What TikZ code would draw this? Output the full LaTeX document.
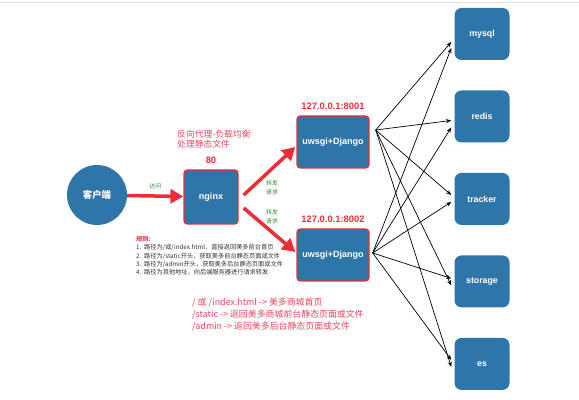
\documentclass[tikz,border=0pt]{standalone}
\usepackage{fontspec}
\setmainfont{Liberation Sans}
\newfontfamily\cjk{Noto Sans CJK SC}
\usepackage{tikz}
\usetikzlibrary{positioning,calc,arrows.meta}
\definecolor{boxblue}{RGB}{46,117,170}
\definecolor{proxyred}{RGB}{234,46,56}
\definecolor{notered}{RGB}{232,72,92}
\definecolor{notegreen}{RGB}{40,140,50}
\tikzset{
	proxybox/.style={draw=proxyred, line width=1.2pt, fill=boxblue, rounded corners=3pt, text=white, font=\bfseries\fontsize{7.7}{9}\selectfont},
	storebox/.style={fill=boxblue, rounded corners=6pt, text=white, font=\bfseries\fontsize{7.5}{9}\selectfont, minimum width=1.65cm, minimum height=1.56cm},
	bigarrow/.style={-{Triangle[length=11pt,width=12pt]}, line width=3pt, draw=proxyred},
	thinarrow/.style={-{Stealth[length=4.5pt,width=3.5pt]}, line width=0.6pt},
}

\begin{document}
\begin{tikzpicture}[x=0.03cm,y=-0.03cm]
		\useasboundingbox (0,0) rectangle (579,400);
		\draw[black!12, line width=0.8pt] (0,2) -- (579,2);
		
		\node[circle, fill=boxblue, minimum size=1.8cm, text=white, font=\cjk\bfseries\fontsize{8}{9}\selectfont] (client) at (97,195) {客户端};
		\node[proxybox, minimum width=1.62cm, minimum height=1.62cm] (nginx) at (211,197) {nginx};
		\node[proxybox, minimum width=2.16cm, minimum height=1.56cm] (uwsgi1) at (333,142) {uwsgi+Django};
		\node[proxybox, minimum width=2.16cm, minimum height=1.56cm] (uwsgi2) at (333,255) {uwsgi+Django};
		
		\node[above=1pt of nginx, text=proxyred, font=\bfseries\fontsize{8}{9}\selectfont] (port) {80};
		\node[above=1pt of uwsgi1, text=proxyred, font=\bfseries\fontsize{8}{9}\selectfont] (addr1) {127.0.0.1:8001};
		\node[above=1pt of uwsgi2, text=proxyred, font=\bfseries\fontsize{8}{9}\selectfont] (addr2) {127.0.0.1:8002};
		
		\node[storebox] (mysql) at (482,34) {mysql};
		\node[storebox, below=0.9cm of mysql] (redis) {redis};
		\node[storebox, below=0.9cm of redis] (tracker) {tracker};
		\node[storebox, below=0.9cm of tracker] (storage) {storage};
		\node[storebox, below=0.9cm of storage] (es) {es};
		
		\draw[bigarrow] (client) -- node[midway, above=1pt, text=notegreen, font=\cjk\fontsize{5}{6}\selectfont] (visit) {访问} (nginx);
		\draw[bigarrow] ($(nginx.east)+(5,-2)$) -- ($(uwsgi1.west)+(-1,5)$);
		\draw[bigarrow] ($(nginx.east)+(5,11)$) -- ($(uwsgi2.west)+(-1,-3)$);
		\node[align=center, text=notegreen, font=\cjk\fontsize{5}{7.5}\selectfont] (fwd1) at (272,188) {转发\\请求};
		\node[align=center, text=notegreen, font=\cjk\fontsize{5}{7.5}\selectfont] (fwd2) at (272,217) {转发\\请求};
		
		\foreach \t/\a/\b in {mysql/8/14, redis/4/11, tracker/-4/3, storage/4/-3, es/3/-4} {
			\draw[thinarrow] ($(uwsgi1.east)+(6,-12)$) -- ($(\t.west)+(-3,\a)$);
			\draw[thinarrow] ($(uwsgi2.east)+(3,-2)$) -- ($(\t.west)+(-3,\b)$);
		}
		
		\node[anchor=north west, align=left, inner sep=0pt, text=notered, font=\cjk\fontsize{7.5}{8.5}\selectfont] (proxynote) at (177,130) {反向代理-负载均衡\\处理静态文件};
		\node[anchor=north west, align=left, inner sep=0pt, text=black!80, font=\cjk\fontsize{5.3}{7.1}\selectfont] (rules) at (136,236) {{\color{notered}\bfseries 规则:}\\1.\ \ 路径为/或/index.html，直接返回美多前台首页\\2.\ \ 路径为/static开头，获取美多前台静态页面或文件\\3.\ \ 路径为/admin开头，获取美多后台静态页面或文件\\4.\ \ 路径为其他地址，向后端服务器进行请求转发};
		\node[anchor=north west, align=left, inner sep=0pt, text=notered, font=\cjk\fontsize{7.6}{10.2}\selectfont] (urlnote) at (192,298) {/ 或 /index.html -> 美多商城首页\\/static -> 返回美多商城前台静态页面或文件\\/admin -> 返回美多后台静态页面或文件};
	\end{tikzpicture}
\end{document}
